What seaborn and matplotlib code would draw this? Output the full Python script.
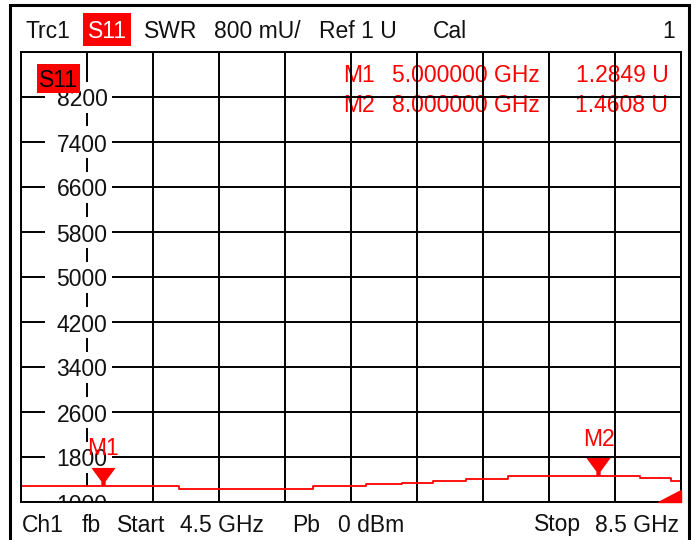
import numpy as np
import pandas as pd
import matplotlib
matplotlib.use('Agg')
import matplotlib.pyplot as plt
import matplotlib.transforms as mtransforms
from matplotlib.patches import Rectangle
import seaborn as sns

# trace data (SWR in mU)
freq_edges = [4.5, 5.46, 6.27, 6.59, 6.81, 7.00, 7.20, 7.45, 8.25, 8.44, 8.5]
swr_levels = [1285, 1236, 1285, 1320, 1343, 1373, 1414, 1461, 1421, 1379]

# markers
marker_names = ['M1', 'M2']
marker_freq = [5.0, 8.0]
marker_swr = [1284.9, 1460.8]
marker_freq_txt = ['5.000000 GHz', '8.000000 GHz']
marker_val_txt = ['1.2849 U', '1.4608 U']

# axes scale
x_start, x_stop, x_div = 4.5, 8.5, 0.4
y_bottom, y_top, y_div = 1000, 9000, 800
y_labels = ['1000', '1800', '2600', '3400', '4200', '5000', '5800', '6600', '7400', '8200']

W, H = 698, 540
sns.set_theme(style='white')
plt.rcParams['font.family'] = ['Liberation Sans', 'DejaVu Sans']
FS = 16.5

fig = plt.figure(figsize=(W / 100, H / 100), dpi=100)
fig.patch.set_facecolor('white')

def fx(x):
    return x / W

def fy(y):
    return 1 - y / H

ax = fig.add_axes([fx(21), fy(502), 660 / W, 450 / H])

df = pd.DataFrame({'freq': freq_edges, 'swr': swr_levels + [swr_levels[-1]]})
sns.lineplot(data=df, x='freq', y='swr', drawstyle='steps-post', estimator=None,
             color='#ff0000', lw=1.3, ax=ax, zorder=2)

# marker triangles with tip on the trace
tri = [(-0.67, 1), (0.67, 1), (0.12, 0.25), (0.12, 0), (-0.12, 0), (-0.12, 0.25)]
sns.scatterplot(x=marker_freq, y=marker_swr, marker=tri, s=26 ** 2, color='#ff0000',
                edgecolor='none', legend=False, ax=ax, zorder=3)
for name, f, v in zip(marker_names, marker_freq, marker_swr):
    ax.annotate(name, (f, v), xytext=(0, 22), textcoords='offset points',
                ha='center', va='baseline', color='#ff0000', fontsize=FS, zorder=4)

ax.set_xlim(x_start, x_stop)
ax.set_ylim(y_bottom, y_top)
xt = np.arange(x_start, x_stop + 0.01, x_div)
ax.set_xticks(xt)
ax.set_yticks(np.arange(y_bottom, y_top + 1, y_div))
ax.tick_params(length=0, labelbottom=False, labelleft=False)
ax.set_xlabel('')
ax.set_ylabel('')
ax.grid(True, color='black', lw=1.4)
ax.set_axisbelow(True)
for sp in ax.spines.values():
    sp.set_color('black')
    sp.set_linewidth(1.4)

# scale labels on the second vertical grid line
px_x = (x_stop - x_start) / 660
px_y = (y_top - y_bottom) / 450
lab_trans = mtransforms.offset_copy(ax.transData, fig=fig, x=-5, y=-9.5, units='dots')
for i, lab in enumerate(y_labels):
    yv = y_bottom + i * y_div
    ax.add_patch(Rectangle((xt[1] - 42 * px_x, yv - 15.5 * px_y), 66.7 * px_x, 31 * px_y,
                           facecolor='white', edgecolor='none', zorder=1))
    ax.text(xt[1], yv, lab, transform=lab_trans, ha='center', va='baseline',
            fontsize=FS, color='#111111', zorder=1.5, clip_on=True)

# trace name tag inside the diagram
ax.add_patch(Rectangle((fx(36.7), fy(92.7)), fx(43.3), 28.7 / H, transform=fig.transFigure,
                       facecolor='#ff0000', edgecolor='none', zorder=1.6))
ax.text(fx(58.3), fy(87), 'S11', transform=fig.transFigure, ha='center', va='baseline',
        fontsize=FS, color='black', zorder=1.7)

# marker readout, drawn below the grid
for i in range(2):
    yb = fy(81.7 + i * 30.5)
    ax.text(fx(343.3), yb, marker_names[i], transform=fig.transFigure, ha='left',
            va='baseline', fontsize=FS, color='#ff0000', zorder=0.3)
    ax.text(fx(391.7), yb, marker_freq_txt[i], transform=fig.transFigure, ha='left',
            va='baseline', fontsize=FS, color='#ff0000', zorder=0.3)
    ax.text(fx(668.3), yb, marker_val_txt[i], transform=fig.transFigure, ha='right',
            va='baseline', fontsize=FS, color='#ff0000', zorder=0.3)

# small red corner flag
ax.fill([0.965, 1, 1], [0, 0, 0.027], transform=ax.transAxes, color='#ff0000',
        zorder=5, clip_on=False)

# header line
fig.patches.append(Rectangle((fx(83.3), fy(46)), 47.7 / W, 33.3 / H, transform=fig.transFigure,
                             facecolor='#ff0000', edgecolor='none'))
header = [('Trc1', 25, 'left', '#111111'), ('S11', 107, 'center', 'white'),
          ('SWR', 144, 'left', '#111111'), ('800 mU/', 214, 'left', '#111111'),
          ('Ref 1 U', 319, 'left', '#111111'), ('Cal', 433, 'left', '#111111'),
          ('1', 675, 'right', '#111111')]
for txt, x, ha, c in header:
    fig.text(fx(x), fy(37.5), txt, ha=ha, va='baseline', fontsize=FS, color=c)

# footer line
footer = [('Ch1', 22, 'left'), ('fb', 82, 'left'), ('Start', 117, 'left'),
          ('4.5 GHz', 180, 'left'), ('Pb', 292, 'left'), ('0 dBm', 338, 'left'),
          ('Stop', 534, 'left'), ('8.5 GHz', 679, 'right')]
for txt, x, ha in footer:
    fig.text(fx(x), fy(531.5), txt, ha=ha, va='baseline', fontsize=FS, color='#111111')

# outer frame (bottom edge falls outside the picture)
fig.patches.append(Rectangle((fx(10), fy(546)), fx(678.7), 541 / H, transform=fig.transFigure,
                             facecolor='none', edgecolor='black', lw=2.2))

fig.savefig('out.png', dpi=100, facecolor='white')
